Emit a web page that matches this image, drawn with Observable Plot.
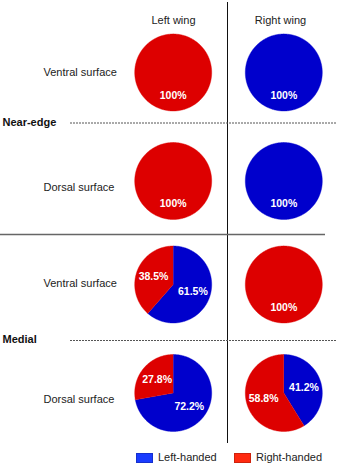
<!DOCTYPE html>
<html><head><meta charset="utf-8">
<script src="https://cdn.jsdelivr.net/npm/d3@7"></script>
<script src="https://cdn.jsdelivr.net/npm/@observablehq/plot@0.6"></script>
<style>
body{margin:0;background:#fff;font-family:"Liberation Sans",Arial,sans-serif;}
#legend{position:relative;height:20px;width:339px;font-size:11px;color:#222;}
.sw{position:absolute;top:7px;width:17px;height:10px;box-sizing:border-box;}
.lb{position:absolute;top:5px;line-height:13px;white-space:nowrap;}
</style></head><body><div id="chart"></div><div id="legend"></div><script>
// ---- data ----
const wings = ["Left wing", "Right wing"];
const surfaces = ["Ventral surface", "Dorsal surface", "Ventral surface", "Dorsal surface"];
const regions = ["Near-edge", "Medial"];
const handedness = ["Left-handed", "Right-handed"];
const leftWingLeftHanded = [0, 0, 61.5, 72.2];
const leftWingRightHanded = [100, 100, 38.5, 27.8];
const rightWingLeftHanded = [100, 100, 0, 41.2];
const rightWingRightHanded = [0, 0, 100, 58.8];

// ---- style / layout ----
const pieColors = ["#0000cc", "#dd0000"];
const legendColors = ["#1a3cff", "#ff2a10"];
const W = 339, H = 446;
const colX = [172.7, 283.3];
const rowY = [72, 180.5, 284, 392.5];
const R = 38.5, labelR = 21;
const headerX = [173, 280], headerY = 20;
const surfaceX = 43, surfaceY = [72, 187, 283, 399];
const regionY = [121.5, 339];

const series = [[leftWingLeftHanded, leftWingRightHanded], [rightWingLeftHanded, rightWingRightHanded]];
const pie = d3.pie().sort(null).value(d => d);
const pts = [], labels = [];
series.forEach((s, w) => {
  surfaces.forEach((_, i) => {
    const vals = [s[0][i], s[1][i]];
    const cx = colX[w], cy = rowY[i];
    pie(vals).forEach((a, k) => {
      if (a.value <= 0) return;
      const id = `${w}-${i}-${k}`;
      const full = a.value >= 100;
      if (!full) pts.push({id, hand: handedness[k], x: cx, y: cy});
      const n = Math.max(2, Math.ceil((a.endAngle - a.startAngle) / (Math.PI / 180)));
      for (let j = 0; j <= n; j++) {
        const t = a.startAngle + (a.endAngle - a.startAngle) * j / n;
        pts.push({id, hand: handedness[k], x: cx + R * Math.sin(t), y: cy - R * Math.cos(t)});
      }
      const mid = full ? Math.PI : (a.startAngle + a.endAngle) / 2;
      const lr = full ? 23 : labelR;
      labels.push({x: cx + lr * Math.sin(mid), y: cy - lr * Math.cos(mid),
        text: (Number.isInteger(a.value) ? a.value : a.value.toFixed(1)) + "%"});
    });
  });
});

const chart = Plot.plot({
  width: W, height: H, margin: 0,
  x: {domain: [0, W], range: [0, W], axis: null},
  y: {domain: [0, H], range: [0, H], axis: null},
  color: {domain: handedness, range: pieColors},
  style: {fontFamily: '"Liberation Sans", Arial, sans-serif', background: "#fff"},
  marks: [
    Plot.ruleX([227], {y1: 2, y2: 443, stroke: "#111", strokeWidth: 1}),
    Plot.ruleY([234], {x1: 0, x2: 325, stroke: "#666", strokeWidth: 1.6}),
    Plot.ruleY(regionY.map(y => y + 1), {x1: 70, x2: 337, stroke: "#555", strokeWidth: 1, strokeDasharray: "2,1"}),
    Plot.line(pts, {x: "x", y: "y", z: "id", fill: "hand", stroke: "hand", strokeWidth: 0.4}),
    Plot.text(labels, {x: "x", y: "y", text: "text", fill: "#fff", fontWeight: "bold", fontSize: 10.5}),
    Plot.text(wings, {x: (d, i) => headerX[i], y: headerY, text: d => d, fontSize: 11, fill: "#222"}),
    Plot.text(surfaces, {x: surfaceX, y: (d, i) => surfaceY[i], text: d => d, fontSize: 11, fill: "#222", textAnchor: "start"}),
    Plot.text(regions, {x: 2, y: (d, i) => regionY[i], text: d => d, fontSize: 11, fontWeight: "bold", fill: "#111", textAnchor: "start"})
  ]
});
document.getElementById("chart").append(chart);

// legend
const lg = document.getElementById("legend");
const swX = [136, 234], lbX = [158, 256];
handedness.forEach((h, i) => {
  const s = document.createElement("div");
  s.className = "sw"; s.style.left = swX[i] + "px"; s.style.background = legendColors[i];
  s.style.border = "1px solid " + d3.color(legendColors[i]).darker(0.6);
  lg.append(s);
  const t = document.createElement("div");
  t.className = "lb"; t.style.left = lbX[i] + "px"; t.textContent = h;
  lg.append(t);
});
</script></body></html>
